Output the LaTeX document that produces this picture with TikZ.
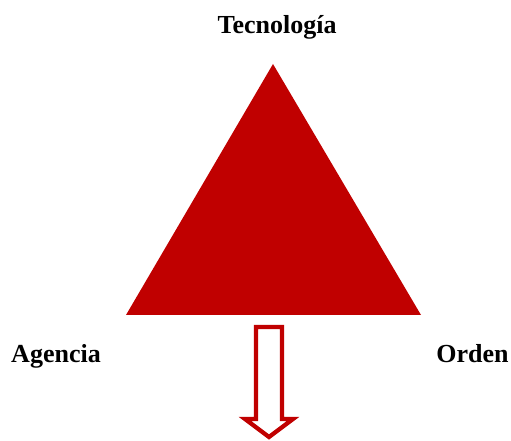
\documentclass[tikz,border=0pt]{standalone}
\usepackage{fontspec}
\setmainfont{Liberation Serif}
\usetikzlibrary{calc}
\definecolor{deepred}{RGB}{192,0,0}
\tikzset{
	corner/.style={font=\fontsize{19.5}{23}\selectfont\bfseries,text=black,anchor=base,inner sep=0pt},
	hollowarrow/.style={draw=deepred,line width=3.2pt,fill=white,line join=miter},
}

\begin{document}
\begin{tikzpicture}[x=0.75pt,y=-0.75pt]
		\useasboundingbox (0,0) rectangle (511,441);
		
		% vertices of the triangle
		\coordinate (apex) at (273,64);
		\coordinate (left) at (126,315);
		\coordinate (right) at (421,315);
		\fill[deepred] (apex) -- (left) -- (right) -- cycle;
		
		\node[corner] (tecnologia) at (277,34) {Tecnología};
		\node[corner] (agencia) at (56,363) {Agencia};
		\node[corner] (orden) at (472.5,363) {Orden};
		
		% downward block arrow under the base
		\coordinate (tail) at (269,327);
		\draw[hollowarrow]
		($(tail)+(-13,0)$) -- ($(tail)+(13,0)$) -- ($(tail)+(13,92)$)
		-- ($(tail)+(24,92)$) -- ($(tail)+(0,110)$) -- ($(tail)+(-24,92)$)
		-- ($(tail)+(-13,92)$) -- cycle;
		
	\end{tikzpicture}
\end{document}
